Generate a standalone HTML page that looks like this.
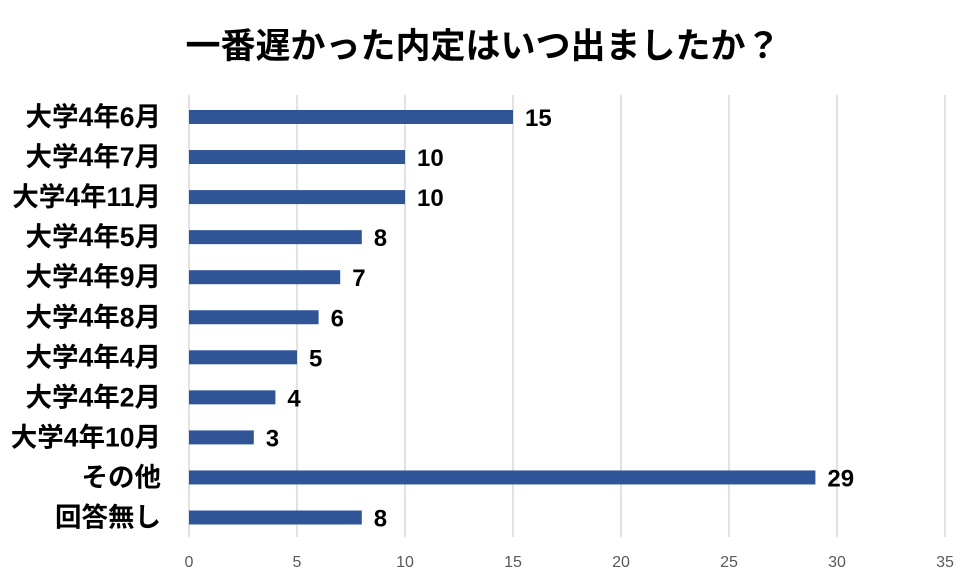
<!DOCTYPE html>
<html><head><meta charset="utf-8"><style>
body{margin:0;background:#fff;}
svg{display:block;font-family:"Liberation Sans","Noto Sans CJK JP",sans-serif;}
</style></head><body>
<svg id="c" width="970" height="581">
<text x="483" y="58" text-anchor="middle" font-size="35" font-weight="bold" fill="#000">一番遅かった内定はいつ出ましたか？</text>
<g id="grid"></g><g id="bars"></g>
</svg>
<script>
const categories=["大学4年6月","大学4年7月","大学4年11月","大学4年5月","大学4年9月","大学4年8月","大学4年4月","大学4年2月","大学4年10月","その他","回答無し"];
const values=[15,10,10,8,7,6,5,4,3,29,8];
const ticks=[0,5,10,15,20,25,30,35];
const NS="http://www.w3.org/2000/svg";
const x0=189,unit=21.6,y0=117,step=40.05,bh=14;
const xs=v=>x0+v*unit, ys=i=>y0+i*step;
const grid=document.getElementById('grid'),bars=document.getElementById('bars');
function mk(t,a,p){const e=document.createElementNS(NS,t);for(const k in a)e.setAttribute(k,a[k]);p.appendChild(e);return e;}
ticks.forEach(t=>{
 const l=mk('line',{x1:xs(t),x2:xs(t),y1:95,y2:537,stroke:'#d9d9d9','stroke-width':1.5},grid);
 
 
 const tx=mk('text',{x:xs(t),y:567,'text-anchor':'middle','font-size':16,fill:'#595959'},grid);
 tx.textContent=t;
 
 
});
categories.forEach((c,i)=>{
 const cy=ys(i);
 const r=mk('rect',{x:x0,y:cy-bh/2,width:values[i]*unit,height:bh,fill:'#2F5597'},bars);
 
 
 const v=mk('text',{x:xs(values[i])+12,y:cy+9,'font-size':24,'font-weight':'bold',fill:'#000'},bars);
 v.textContent=values[i];
 
 
 const lb=mk('text',{x:161,y:cy+9,'text-anchor':'end','font-size':26.5,'font-weight':'bold',fill:'#000'},bars);
 lb.textContent=c;
 
 
});
</script>
</body></html>
